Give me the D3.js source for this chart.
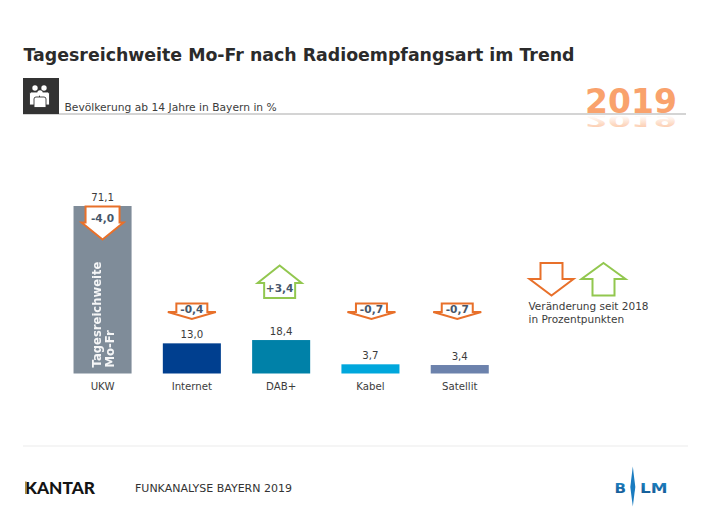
<!DOCTYPE html>
<html><head><meta charset="utf-8">
<script src="https://cdn.jsdelivr.net/npm/d3@7/dist/d3.min.js"></script>
<style>html,body{margin:0;background:#fff}svg{display:block}text{font-family:"DejaVu Sans",Verdana,sans-serif}</style>
</head><body><div id="c"></div>
<script>
const categories = ["UKW","Internet","DAB+","Kabel","Satellit"];
const valueLabels = ["71,1","13,0","18,4","3,7","3,4"];
// Heights as drawn in the reference (its DAB+ bar is shorter than its printed 18,4)
const drawnValues = [71.1,12.8,14.2,3.9,3.6];
const changes = [-4.0,-0.4,3.4,-0.7,-0.7];
const changeLabels = ["-4,0","-0,4","+3,4","-0,7","-0,7"];
const barColors = ["#7f8c99","#003f8f","#0081a8","#00a7dc","#6c82ac"];
const arrowNudge = [0,0,-1.5,1,-2.5];
const W=710,H=514,ORANGE="#e8702a",GREEN="#92c74f";
const svg=d3.select("#c").append("svg").attr("width",W).attr("height",H);
const defs=svg.append("defs");
const fade=defs.append("linearGradient").attr("id","fade").attr("x1",0).attr("x2",0).attr("y1",0).attr("y2",1);
fade.append("stop").attr("offset",0).attr("stop-color","#f9a26c").attr("stop-opacity",.6);
fade.append("stop").attr("offset",.75).attr("stop-color","#f9a26c").attr("stop-opacity",0);
defs.append("filter").attr("id","blur").append("feGaussianBlur").attr("stdDeviation",1.2);
const blmG=defs.append("linearGradient").attr("id","blmg").attr("x1",0).attr("x2",0).attr("y1",0).attr("y2",1);
blmG.append("stop").attr("offset",0).attr("stop-color","#1f8fd0");
blmG.append("stop").attr("offset",1).attr("stop-color","#14558f");

const x=d3.scaleBand().domain(categories).range([57.9,504.4]).paddingInner(.35).paddingOuter(.175);
const y=d3.scaleLinear().domain([0,71.1]).range([373.5,206]);

// header
svg.append("text").attr("x",23.5).attr("y",61).attr("font-size",18.4).attr("font-weight",700).attr("fill","#2b2b2b").attr("textLength",551).attr("lengthAdjust","spacingAndGlyphs").text("Tagesreichweite Mo-Fr nach Radioempfangsart im Trend");
svg.append("line").attr("x1",23).attr("x2",686).attr("y1",114).attr("y2",114).attr("stroke","#c6c6c6").attr("stroke-width",1.4);
svg.append("rect").attr("x",23).attr("y",78).attr("width",36).attr("height",36).attr("fill","#333333");
const icon=svg.append("g").attr("fill","#fff").attr("stroke","#333333").attr("stroke-width",.9);
[[35,88,29.5,40,92,105],[44,88,39.5,49.5,92,105],[40,93,34,46,97,107.5]].forEach(([cx,cy,l,r,t,b])=>{
  icon.append("circle").attr("cx",cx).attr("cy",cy).attr("r",2.7).attr("stroke","none");
  const p=d3.path();p.moveTo(l,b);p.lineTo(l,t+2);p.quadraticCurveTo(l,t,l+2,t);p.lineTo(r-2,t);p.quadraticCurveTo(r,t,r,t+2);p.lineTo(r,b);p.closePath();
  icon.append("path").attr("d",p.toString());
});
svg.append("text").attr("x",64.5).attr("y",110.5).attr("font-size",10.7).attr("fill","#3c3c3c").text("Bevölkerung ab 14 Jahre in Bayern in %");

// 2019 wordmark: shadow and reflection reuse the one real text
const yr=svg.append("g").attr("font-weight",700).attr("font-size",33).attr("text-anchor","middle");
yr.append("use").attr("href","#yr2019").attr("transform","translate(270,67) skewX(-50) scale(1,.4)").attr("fill","#bbbbbb").attr("opacity",.55).attr("filter","url(#blur)");
yr.append("use").attr("href","#yr2019").attr("transform","translate(0,166.5) scale(1,-.46)").attr("fill","url(#fade)");
yr.append("g").attr("fill","#f9a26c").append("text").attr("id","yr2019").attr("x",631).attr("y",113).text("2019");

// bars
svg.append("g").selectAll("rect").data(categories).join("rect")
  .attr("x",d=>x(d)).attr("width",x.bandwidth())
  .attr("y",(d,i)=>y(drawnValues[i])).attr("height",(d,i)=>y(0)-y(drawnValues[i]))
  .attr("fill",(d,i)=>barColors[i]);
svg.append("g").selectAll("text").data(categories).join("text")
  .attr("x",d=>x(d)+x.bandwidth()/2).attr("y",(d,i)=>y(drawnValues[i])-5)
  .attr("text-anchor","middle").attr("font-size",10.2).attr("fill","#3c3c3c").text((d,i)=>valueLabels[i]);

// category axis
const ax=svg.append("g").attr("transform",`translate(0,${y(0)})`).call(d3.axisBottom(x).tickSize(0).tickPadding(9));
ax.select(".domain").remove();
ax.selectAll("text").attr("font-size",10.2).attr("fill","#3c3c3c").style("font-family",'"DejaVu Sans"');

// vertical label inside UKW bar
const vl=svg.append("g").attr("fill","#fff").attr("font-weight",700).attr("font-size",11.6).attr("opacity",.92);
vl.append("text").attr("transform",`translate(${x("UKW")+x.bandwidth()/2-1.2},367.5) rotate(-90)`).text("Tagesreichweite");
vl.append("text").attr("transform",`translate(${x("UKW")+x.bandwidth()/2+11},367.5) rotate(-90)`).text("Mo-Fr");

// arrows: outline around a centre
function downArrow(cx,top,shoulder,tip,stem,head){
  const p=d3.path();p.moveTo(cx-stem,top);p.lineTo(cx+stem,top);p.lineTo(cx+stem,shoulder);p.lineTo(cx+head,shoulder);p.lineTo(cx,tip);p.lineTo(cx-head,shoulder);p.lineTo(cx-stem,shoulder);p.closePath();return p.toString();
}
function upArrow(cx,tip,shoulder,bottom,stem,head){
  const p=d3.path();p.moveTo(cx,tip);p.lineTo(cx+head,shoulder);p.lineTo(cx+stem,shoulder);p.lineTo(cx+stem,bottom);p.lineTo(cx-stem,bottom);p.lineTo(cx-stem,shoulder);p.lineTo(cx-head,shoulder);p.closePath();return p.toString();
}
const arrowStyle=s=>s.attr("fill","#fff").attr("stroke-width",2).attr("stroke-linejoin","miter");
categories.forEach((c,i)=>{
  const cx=x(c)+x.bandwidth()/2+arrowNudge[i];
  let d,ty;
  if(changes[i]>=0){d=upArrow(cx,265.5,283,298,15.5,22);ty=291.5;}
  else if(c==="UKW"){d=downArrow(cx,206.5,222.5,239.5,17,21);ty=221.5;}
  else{d=downArrow(cx,303.5,312,319,15.5,24);ty=313;}
  svg.append("path").attr("d",d).attr("stroke",changes[i]>=0?GREEN:ORANGE).call(arrowStyle);
  svg.append("text").attr("x",cx).attr("y",ty).attr("text-anchor","middle").attr("font-size",10.6).attr("font-weight",700).attr("fill","#46566a").text(changeLabels[i]);
});

// legend
svg.append("path").attr("d",downArrow(551.5,263,279,295.5,11,22)).attr("stroke",ORANGE).call(arrowStyle).attr("fill","none");
svg.append("path").attr("d",upArrow(603.5,263,279,295.5,11,22)).attr("stroke",GREEN).call(arrowStyle).attr("fill","none");
svg.append("text").attr("x",528.5).attr("y",310).attr("font-size",10.5).attr("fill","#3c3c3c").text("Veränderung seit 2018");
svg.append("text").attr("x",528.5).attr("y",322.5).attr("font-size",10.5).attr("fill","#3c3c3c").text("in Prozentpunkten");

// footer
svg.append("line").attr("x1",23).attr("x2",688).attr("y1",446).attr("y2",446).attr("stroke","#ececec").attr("stroke-width",1.2);
svg.append("text").attr("x",25).attr("y",494).attr("font-size",17.4).attr("font-weight",900).attr("fill","#141414").style("font-family","Lato").attr("textLength",70).attr("lengthAdjust","spacingAndGlyphs").text("KANTAR");
svg.append("rect").attr("x",25).attr("y",481.5).attr("width",1.6).attr("height",12.5).attr("fill","#a98f45");
svg.append("text").attr("x",135).attr("y",492).attr("font-size",11).attr("fill","#333").attr("textLength",157).attr("lengthAdjust","spacingAndGlyphs").text("FUNKANALYSE BAYERN 2019");
const blm=svg.append("g").attr("font-weight",900).attr("font-size",14.6).attr("fill","url(#blmg)").style("font-family","Lato");
blm.append("text").attr("x",614.5).attr("y",492.5).attr("textLength",11.5).attr("lengthAdjust","spacingAndGlyphs").text("B");
blm.append("text").attr("x",640).attr("y",492.5).attr("textLength",27.5).attr("lengthAdjust","spacingAndGlyphs").text("LM");
const sp=d3.path();sp.moveTo(632.8,466.5);sp.lineTo(635.3,487);sp.lineTo(632.8,506.5);sp.lineTo(630.3,487);sp.closePath();
svg.append("path").attr("d",sp.toString()).attr("fill","#1a7cc0");
</script></body></html>
